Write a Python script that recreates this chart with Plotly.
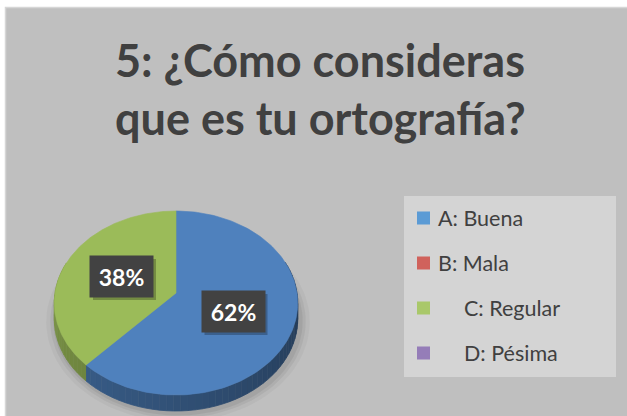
import numpy as np
import plotly.graph_objects as go

# ---------------- data ----------------
categories = ["A: Buena", "B: Mala", "C: Regular", "D: Pésima"]
values = [62, 0, 38, 0]
slice_colors = ["#4F81BD", "#C0504D", "#9BBB59", "#8064A2"]
legend_colors = ["#5B9BD5", "#D0625C", "#A9C86A", "#957DB8"]
title_lines = ["5: ¿Cómo consideras", "que es tu ortografía?"]

# ---------------- geometry (layout constants) ----------------
W, H = 627, 416
CX, CY, R = 176.0, 293.0, 121.0
C_P, B_P = 0.1087, -59.07   # perspective tilt
DEPTH = 16.0
FONT = "Lato"
TXT = "#404040"


def proj(theta, r=1.0):
    u = r * np.sin(theta)
    v = r * np.cos(theta)
    d = 1 + C_P * v
    return CX + R * u / d, (CY + B_P * v) / d


def hex_rgb(h):
    h = h.lstrip("#")
    return tuple(int(h[i:i + 2], 16) for i in (0, 2, 4))


def shade(h, k):
    r, g, b = hex_rgb(h)
    return "rgb(%d,%d,%d)" % (r * k, g * k, b * k)


fig = go.Figure()

total = float(sum(values))
starts, ends = [], []
acc = 0.0
for v in values:
    a0 = acc / total * 2 * np.pi
    acc += v
    a1 = acc / total * 2 * np.pi
    starts.append(a0)
    ends.append(a1)

# soft shadow under the pie
for grow, alpha in [(10, 0.035), (6, 0.05), (3, 0.06)]:
    th = np.linspace(0, 2 * np.pi, 120)
    xs, ys = proj(th)
    sx = CX + (xs - CX) * (1 + grow / R) + 2
    sy = CY + (ys - CY) * (1 + grow / R) + DEPTH + 2
    fig.add_trace(go.Scatter(x=sx, y=sy, fill="toself", mode="lines",
                             line=dict(width=0), fillcolor="rgba(0,0,0,%.3f)" % alpha,
                             hoverinfo="skip", showlegend=False))

# side walls (drawn as shaded strips)
for i, v in enumerate(values):
    if v <= 0:
        continue
    a0, a1 = starts[i], ends[i]
    n = max(2, int(np.degrees(a1 - a0) / 3))
    edges = np.linspace(a0, a1, n + 1)
    for j in range(n):
        t0, t1 = edges[j], edges[j + 1]
        tm = 0.5 * (t0 + t1)
        if np.cos(tm) > 0.35:
            continue
        deg = np.degrees(tm) % 360
        if deg < 90:
            deg = 90
        k = 0.45 + (deg - 90) / 180 * 0.35
        col = shade(slice_colors[i], k)
        tt = np.linspace(t0, t1, 4)
        xs, ys = proj(tt)
        px = np.concatenate([xs, xs[::-1]])
        py = np.concatenate([ys, (ys + DEPTH)[::-1]])
        fig.add_trace(go.Scatter(x=px, y=py, fill="toself", mode="lines",
                                 line=dict(width=0.8, color=col), fillcolor=col,
                                 hoverinfo="skip", showlegend=False))

# top faces
for i, v in enumerate(values):
    if v <= 0:
        continue
    tt = np.linspace(starts[i], ends[i], 160)
    xs, ys = proj(tt)
    cx0, cy0 = proj(0.0, 0.0)
    px = np.concatenate([[cx0], xs, [cx0]])
    py = np.concatenate([[cy0], ys, [cy0]])
    fig.add_trace(go.Scatter(x=px, y=py, fill="toself", mode="lines",
                             line=dict(width=0.6, color=slice_colors[i]),
                             fillcolor=slice_colors[i],
                             hoverinfo="skip", showlegend=False))

# data labels
label_pos = {0: (233, 311.5), 2: (121.5, 276.5)}
annotations = []
shapes = []
for i, v in enumerate(values):
    if v <= 0:
        continue
    lx, ly = label_pos[i]
    shapes.append(dict(type="rect", xref="x", yref="y",
                       x0=lx - 31.5 + 3, x1=lx + 31.5 + 3, y0=ly - 20.5 + 3, y1=ly + 20.5 + 3,
                       fillcolor="rgba(0,0,0,0.25)", line=dict(width=0), layer="above"))
    pct = "%d%%" % round(v / total * 100)
    annotations.append(dict(x=lx, y=ly, xref="x", yref="y", text="<b>%s</b>" % pct,
                            showarrow=False, font=dict(family=FONT, size=23, color="white"),
                            bgcolor="#424242", width=59, height=37, borderpad=2,
                            xanchor="center", yanchor="middle"))

# legend (manual)
LEG_X0, LEG_X1, LEG_Y0, LEG_Y1 = 404, 616, 196, 377
shapes.insert(0, dict(type="rect", xref="x", yref="y", x0=LEG_X0, x1=LEG_X1,
                      y0=LEG_Y0, y1=LEG_Y1, fillcolor="#D4D4D4",
                      line=dict(width=0), layer="below"))
leg_y = [218 + 45 * i for i in range(len(categories))]
fig.add_trace(go.Scatter(x=[423.5] * len(categories), y=leg_y, mode="markers",
                         marker=dict(symbol="square", size=13, color=legend_colors,
                                     line=dict(width=0)),
                         hoverinfo="skip", showlegend=False))
for i, name in enumerate(categories):
    tx = 436 if i < 2 else 462
    annotations.append(dict(x=tx, y=leg_y[i], xref="x", yref="y", text=name,
                            showarrow=False, xanchor="left", yanchor="middle",
                            font=dict(family=FONT, size=21.5, color=TXT)))

# title
for j, line in enumerate(title_lines):
    annotations.append(dict(x=320, y=60 + 58 * j, xref="x", yref="y",
                            text="<b>%s</b>" % line, showarrow=False,
                            xanchor="center", yanchor="middle",
                            font=dict(family=FONT, size=45, color=TXT)))

# chart area background
shapes.insert(0, dict(type="rect", xref="x", yref="y", x0=5.5, x1=W + 2, y0=7.5, y1=H + 2,
                      fillcolor="#BFBFBF", line=dict(width=1.5, color="#D6D6D6"),
                      layer="below"))

fig.update_layout(
    width=W, height=H,
    margin=dict(l=0, r=0, t=0, b=0),
    paper_bgcolor="white", plot_bgcolor="white",
    xaxis=dict(range=[0, W], visible=False, fixedrange=True),
    yaxis=dict(range=[H, 0], visible=False, fixedrange=True),
    shapes=shapes, annotations=annotations,
    showlegend=False,
)

fig.write_html("out.html", config={"displayModeBar": False},
               post_script="document.body.style.margin='0px';document.body.style.overflow='hidden';")
